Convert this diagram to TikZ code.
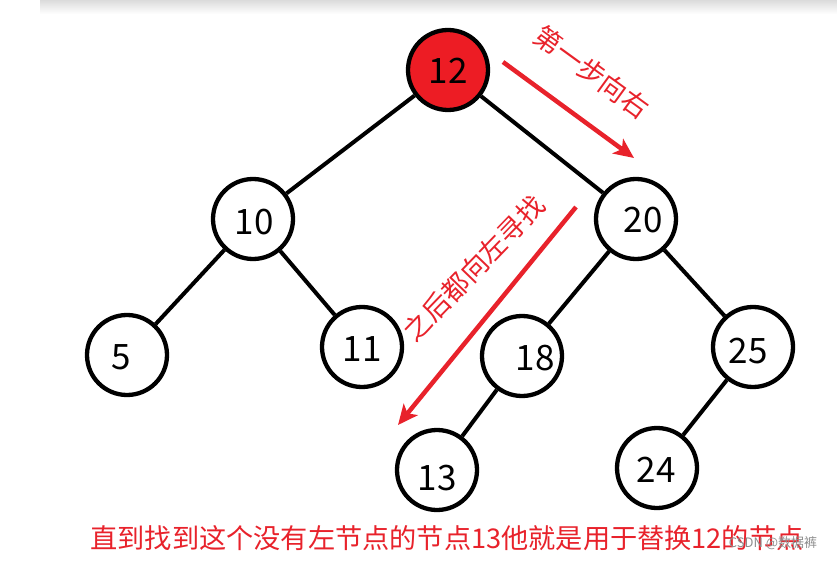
\documentclass[tikz,border=0pt]{standalone}
\usepackage{fontspec}
\setmainfont{Noto Sans CJK SC}
\usetikzlibrary{arrows.meta}
\definecolor{pred}{HTML}{ED1C24}
\definecolor{ared}{HTML}{E8222B}
\begin{document}
\begin{tikzpicture}[x=1pt,y=-1pt,
  treenode/.style={circle,draw=black,line width=4.3pt,minimum size=80pt,inner sep=0pt},
  numtext/.style={font=\fontsize{35}{35}\selectfont,text=black,inner sep=0pt},
  edge/.style={line width=4pt,black},
  redarrow/.style={line width=4.5pt,ared,-{Stealth[length=20pt,width=18pt,inset=5pt]}},
  redtext/.style={text=ared,inner sep=0pt}]
\useasboundingbox (0,0) rectangle (837,561);
\shade[top color=black!14,bottom color=white] (40,0) rectangle (837,14);
% circles
\node[treenode,fill=pred] (n12) at (448,70) {};
\node[treenode,fill=white] (n10) at (253,219) {};
\node[treenode,fill=white] (n20) at (636,219) {};
\node[treenode,fill=white] (n5) at (127,355) {};
\node[treenode,fill=white] (n11) at (362,347) {};
\node[treenode,fill=white] (n18) at (522,356) {};
\node[treenode,fill=white] (n25) at (753,347) {};
\node[treenode,fill=white] (n13) at (437,470) {};
\node[treenode,fill=white] (n24) at (657,468) {};
% edges
\draw[edge] (n12) -- (n10);
\draw[edge] (n12) -- (n20);
\draw[edge] (n10) -- (n5);
\draw[edge] (n10) -- (n11);
\draw[edge] (n20) -- (n18);
\draw[edge] (n20) -- (n25);
\draw[edge] (n18) -- (n13);
\draw[edge] (n25) -- (n24);
% labels
\node[numtext] (t12) at (448,71) {12};
\node[numtext] (t10) at (254,222) {10};
\node[numtext] (t20) at (643,220) {20};
\node[numtext] (t5) at (121,357) {5};
\node[numtext] (t11) at (362,349) {11};
\node[numtext] (t18) at (535,358) {18};
\node[numtext] (t25) at (748,351) {25};
\node[numtext] (t13) at (437,478) {13};
\node[numtext] (t24) at (656,470) {24};
% red arrows
\coordinate (a1s) at (503,62);
\coordinate (a1e) at (634,158);
\coordinate (a2s) at (576,207);
\coordinate (a2e) at (398,425);
\draw[redarrow] (a1s) -- (a1e);
\draw[redarrow] (a2s) -- (a2e);
\node[redtext,font=\fontsize{27}{27}\selectfont,rotate=-36] (lab1) at (592,72) {第一步向右};
\node[redtext,font=\fontsize{27}{27}\selectfont,rotate=46] (lab2) at (474,268) {之后都向左寻找};
\node[redtext,font=\fontsize{27.2}{27.2}\selectfont] (bottom) at (447,538) {直到找到这个没有左节点的节点13他就是用于替换12的节点};
\node[text=black!45,inner sep=0pt,font=\fontsize{13}{13}\selectfont] (wm) at (773,543) {CSDN @数据裤};
\end{tikzpicture}
\end{document}
